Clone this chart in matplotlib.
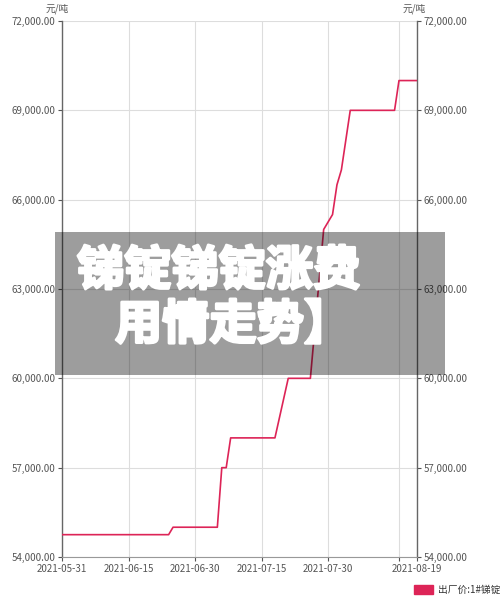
import matplotlib
matplotlib.use("Agg")
import matplotlib.pyplot as plt
import matplotlib.dates as mdates
import matplotlib.patheffects as pe
from matplotlib.patches import Rectangle, Patch
import pandas as pd

plt.rcParams['font.family'] = ['Noto Sans CJK SC', 'DejaVu Sans']

# price of 1# antimony ingot, yuan/ton (change points)
dates = ["2021-05-31", "2021-06-24", "2021-06-25", "2021-07-05", "2021-07-06",
         "2021-07-07", "2021-07-08", "2021-07-18", "2021-07-21", "2021-07-26",
         "2021-07-29", "2021-07-31", "2021-08-01", "2021-08-02", "2021-08-04",
         "2021-08-14", "2021-08-15", "2021-08-19"]
prices = [54750, 54750, 55000, 55000, 57000,
          57000, 58000, 58000, 60000, 60000,
          65000, 65500, 66500, 67000, 69000,
          69000, 70000, 70000]

series_name = "出厂价:1#锑锭"
unit = "元/吨"
y_ticks = [54000, 57000, 60000, 63000, 66000, 69000, 72000]
x_tick_dates = ["2021-05-31", "2021-06-15", "2021-06-30", "2021-07-15",
                "2021-07-30", "2021-08-15", "2021-08-19"]
x_tick_labels = ["2021-05-31", "2021-06-15", "2021-06-30", "2021-07-15",
                 "2021-07-30", "", "2021-08-19"]
overlay_lines = ["锑锭锑锭涨费", "用情走势】"]

line_color = "#dd2457"
text_color = "#555555"

fig = plt.figure(figsize=(5.0, 6.08), dpi=100)
ax = fig.add_axes([62.3 / 500, 51 / 608, 354.4 / 500, 536 / 608])

x = pd.to_datetime(dates)
ax.plot(x, prices, color=line_color, lw=1.2, zorder=3)

ax.set_xlim(pd.Timestamp("2021-05-31"), pd.Timestamp("2021-08-19"))
ax.set_ylim(54000, 72000)

ax.set_yticks(y_ticks)
ax.set_yticklabels([f"{v:,.2f}" for v in y_ticks])
ax.set_xticks(pd.to_datetime(x_tick_dates))
ax.set_xticklabels(x_tick_labels)

ax.grid(True, color="#dddddd", lw=0.8, zorder=0)
ax.tick_params(axis="both", labelsize=7, colors=text_color, length=3, width=0.8)
ax.tick_params(axis="y", left=True, right=True, labelleft=True, labelright=True, pad=2)
ax.tick_params(axis="x", pad=2)

for side in ["left", "right"]:
    ax.spines[side].set_color("#666666")
    ax.spines[side].set_linewidth(1.0)
ax.spines["bottom"].set_color("#999999")
ax.spines["top"].set_visible(False)

fig.text(57 / 500, 1 - 9 / 608, unit, fontsize=7, color=text_color, ha="center", va="center")
fig.text(414 / 500, 1 - 9 / 608, unit, fontsize=7, color=text_color, ha="center", va="center")

fig.legend(handles=[Patch(facecolor=line_color, edgecolor=line_color)], labels=[series_name],
           loc="center right", bbox_to_anchor=(1.0, 1 - 590 / 608), frameon=False,
           fontsize=7, handlelength=1.95, handleheight=1.0, handletextpad=0.5,
           borderpad=0, borderaxespad=0, labelcolor="#333333")

# grey banner with the title on top of the plot
rect = Rectangle((55 / 500, 1 - 375 / 608), 390 / 500, 143 / 608, transform=fig.transFigure,
                 facecolor="black", alpha=0.385, edgecolor="none", zorder=5)
fig.add_artist(rect)
stroke = [pe.withStroke(linewidth=2, foreground="white")]
fig.text(77 / 500, 1 - 271 / 608, overlay_lines[0], fontsize=34, fontweight="heavy",
         color="white", ha="left", va="center", zorder=6, path_effects=stroke)
fig.text(115 / 500, 1 - 325 / 608, overlay_lines[1], fontsize=34, fontweight="heavy",
         color="white", ha="left", va="center", zorder=6, path_effects=stroke)

fig.savefig("out.png", dpi=100)
